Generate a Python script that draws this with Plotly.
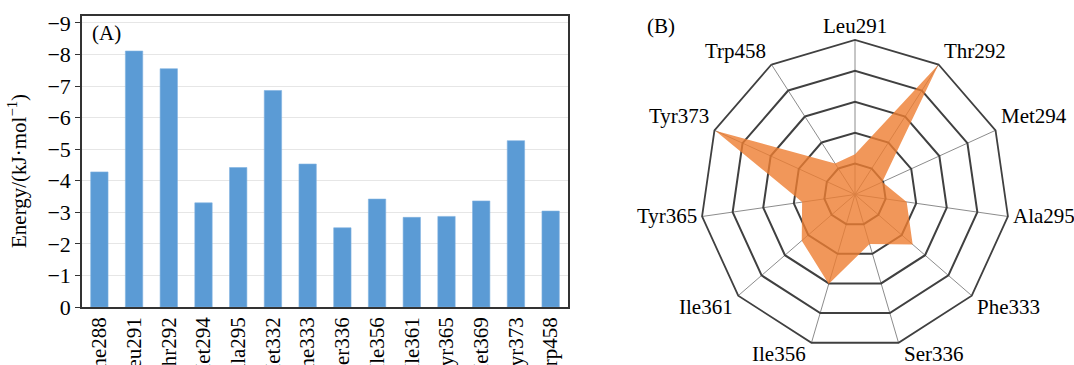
import math
import plotly.graph_objects as go

# Bar chart (A)
residues = ["Phe288", "Leu291", "Thr292", "Met294", "Ala295", "Met332", "Phe333",
            "Ser336", "Ile356", "Ile361", "Tyr365", "Met369", "Tyr373", "Trp458"]
energy = [-4.28, -8.11, -7.55, -3.30, -4.42, -6.86, -4.53,
          -2.51, -3.42, -2.84, -2.87, -3.36, -5.27, -3.04]
y_ticks = [0, -1, -2, -3, -4, -5, -6, -7, -8, -9]

# Radar chart (B)
radar_residues = ["Leu291", "Thr292", "Met294", "Ala295", "Phe333", "Ser336",
                  "Ile356", "Ile361", "Tyr365", "Tyr373", "Trp458"]
radar_values = [1.30, 5.00, 0.97, 1.69, 2.47, 1.67, 3.02, 2.28, 1.73, 4.97, 1.19]

FONT = "Liberation Serif, Times New Roman, serif"
W, H = 1074, 365

fig = go.Figure()
fig.add_trace(go.Bar(x=residues, y=energy, marker=dict(color="#5B9BD5",
                     line=dict(color="#7FB2E0", width=0.6)), showlegend=False))

fig.add_trace(go.Scatterpolar(r=radar_values, theta=radar_residues, fill="toself",
                              fillcolor="rgba(237,125,49,0.80)", mode="lines",
                              line=dict(width=0, color="rgba(237,125,49,0)"),
                              showlegend=False))

# geometry in pixels
px_l, px_r, px_t, px_b = 82, 568, 16, 307
cx, cy, R = 855, 194.5, 154.5

annotations = [
    dict(text="Energy/(kJ·mol<sup>−1</sup>)", x=17 / W, y=1 - 171 / H,
         xref="paper", yref="paper", xanchor="center", yanchor="middle",
         textangle=-90, showarrow=False, font=dict(size=21)),
    dict(text="(A)", x=90 / W, y=1 - 33 / H, xref="paper", yref="paper",
         xanchor="left", yanchor="middle", showarrow=False, font=dict(size=21)),
    dict(text="(B)", x=645 / W, y=1 - 26 / H, xref="paper", yref="paper",
         xanchor="left", yanchor="middle", showarrow=False, font=dict(size=21)),
]

# category labels of the radar, placed just outside each spoke end
n = len(radar_residues)
for i, name in enumerate(radar_residues):
    a = math.radians(i * 360.0 / n)
    s, c = math.sin(a), math.cos(a)
    vx, vy = cx + R * s, cy - R * c
    if abs(s) < 0.2:
        xa, dx = "center", 0
    elif s > 0:
        xa, dx = "left", 3
    else:
        xa, dx = "right", -3
    if c > 0.3:
        ya, dy = "bottom", 0
    elif c < -0.3:
        ya, dy = "top", -3
    else:
        ya, dy = "middle", 0
    annotations.append(dict(text=name, x=(vx + dx) / W, y=1 - (vy + dy) / H,
                            xref="paper", yref="paper", xanchor=xa, yanchor=ya,
                            showarrow=False, font=dict(size=21)))

fig.update_layout(
    width=W, height=H,
    margin=dict(l=0, r=0, t=0, b=0),
    paper_bgcolor="white", plot_bgcolor="white",
    font=dict(family=FONT, size=20, color="black"),
    bargap=0.5,
    xaxis=dict(domain=[px_l / W, px_r / W], showline=True, linecolor="#333333",
               linewidth=1.5, mirror=True, ticks="", tickangle=-90,
               tickfont=dict(size=21), automargin=False),
    yaxis=dict(domain=[(H - px_b) / H, (H - px_t) / H], range=[0, -9.22],
               tickvals=y_ticks, showline=True, linecolor="#333333", linewidth=1.5,
               mirror=True, ticks="outside", ticklen=5, tickcolor="#333333",
               showgrid=True, gridcolor="#E6E6E6", gridwidth=1.2,
               zeroline=False, tickfont=dict(size=22), automargin=False),
    polar=dict(
        domain=dict(x=[(cx - R) / W, (cx + R) / W], y=[(H - cy - R) / H, (H - cy + R) / H]),
        gridshape="linear",
        bgcolor="white",
        angularaxis=dict(rotation=90, direction="clockwise", showline=True,
                         linecolor="#404040", linewidth=1.8, gridcolor="#8C8C8C",
                         gridwidth=1.2, ticks="", showticklabels=False),
        radialaxis=dict(range=[0, 5], dtick=1, showticklabels=False, ticks="",
                        showline=False, gridcolor="#404040", gridwidth=1.8),
    ),
    annotations=annotations,
)

fig.write_html("out.html", config={"displayModeBar": False},
               post_script="document.body.style.margin='0';")
